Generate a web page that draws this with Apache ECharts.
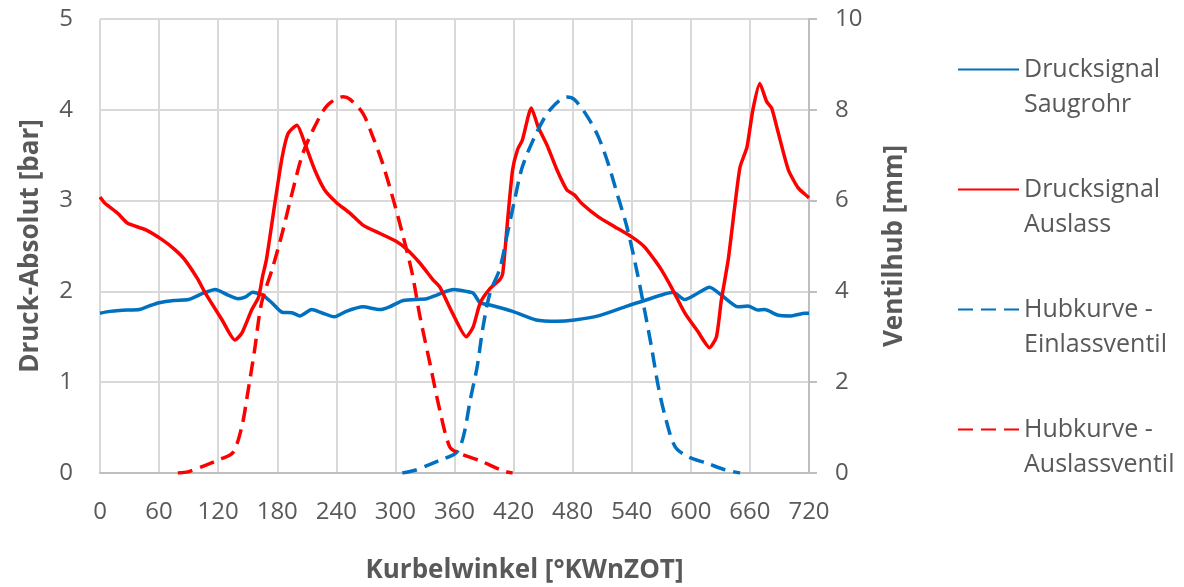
<!DOCTYPE html>
<html>
<head>
<meta charset="utf-8">
<script src="https://cdn.jsdelivr.net/npm/echarts@6/dist/echarts.min.js"></script>
<style>html,body{margin:0;padding:0;background:#fff}#c{width:1184px;height:587px}</style>
</head>
<body>
<div id="c"></div>
<script>
// Kurbelwinkel [°KWnZOT] axis
const xMin = 0, xMax = 720, xStep = 60;

// Drucksignal Saugrohr [bar]: [angle, value]
const saugrohrAngle = [0,10,20,30,40,50,60,75,90,105,117,130,140,148,155,165,175,185,195,203,215,225,238,250,267,284,294,308,332,342,359,372,379,386,396,419,443,464,482,506,533,553,582,594,607,619,631,648,658,668,675,688,702,716,720];
const saugrohrValue = [1.76,1.78,1.79,1.795,1.80,1.84,1.875,1.90,1.91,1.98,2.02,1.96,1.92,1.94,1.99,1.96,1.87,1.77,1.765,1.73,1.80,1.765,1.72,1.78,1.83,1.80,1.83,1.90,1.92,1.96,2.02,2.00,1.98,1.875,1.85,1.78,1.685,1.67,1.685,1.73,1.83,1.90,1.99,1.91,1.98,2.045,1.96,1.83,1.84,1.795,1.80,1.74,1.73,1.76,1.76];

// Drucksignal Auslass [bar]
const auslassAngle = [0,5,18,28,46,63,76,86,99,107,124,137,144,154,161,165,169,178,185,191,200,208,218,228,240,254,267,284,301,311,325,338,345,358,372,379,386,396,406,409,414,419,424,429,438,445,454,464,474,482,489,506,523,540,553,563,570,580,594,607,619,626,631,638,645,650,657,663,670,677,682,688,699,709,719,720];
const auslassValue = [3.04,2.97,2.86,2.75,2.68,2.57,2.46,2.35,2.14,1.98,1.685,1.465,1.54,1.795,1.935,2.16,2.35,3.0,3.48,3.74,3.83,3.63,3.34,3.12,2.98,2.86,2.73,2.64,2.55,2.47,2.31,2.13,2.05,1.76,1.50,1.61,1.87,2.03,2.13,2.2,2.79,3.34,3.56,3.67,4.02,3.81,3.61,3.34,3.12,3.06,2.97,2.82,2.71,2.60,2.49,2.35,2.24,2.05,1.76,1.56,1.38,1.50,1.905,2.35,2.97,3.37,3.59,4.0,4.29,4.09,4.02,3.78,3.34,3.14,3.04,3.03];

// Hubkurve - Einlassventil [mm]
const einlassAngle = [307,320,332,345,362,369,376,383,389,396,406,413,421,429,443,457,474,482,495,506,516,526,535,545,553,560,567,574,584,597,617,635,650];
const einlassValue = [0,0.06,0.16,0.28,0.45,0.8,1.61,2.34,3.22,3.96,4.5,5.2,6.01,6.75,7.48,8.0,8.28,8.22,7.85,7.41,6.82,6.09,5.43,4.47,3.59,2.78,1.9,1.24,0.58,0.36,0.21,0.07,0];

// Hubkurve - Auslassventil [mm]
const auslassVAngle = [79,90,107,122,135,144,150,157,164,175,185,195,206,218,231,247,254,267,277,287,298,308,317,325,335,345,355,363,386,409,419];
const auslassVValue = [0,0.03,0.17,0.3,0.45,1.02,1.76,2.71,3.74,4.5,5.28,6.16,7.04,7.63,8.1,8.29,8.23,7.92,7.41,6.82,6.01,5.2,4.4,3.44,2.42,1.39,0.58,0.45,0.27,0.05,0];

const names = ['Drucksignal\nSaugrohr','Drucksignal\nAuslass','Hubkurve -\nEinlassventil','Hubkurve -\nAuslassventil'];
const BLUE = '#0070C0', RED = '#FF0000', TXT = '#595959', GRID = '#D9D9D9', AX = '#BFBFBF';
const FONT = '"Open Sans", sans-serif';

const zip = (a, b) => a.map((x, i) => [x, b[i]]);

const chart = echarts.init(document.getElementById('c'));
chart.setOption({
  animation: false,
  backgroundColor: '#fff',
  grid: { left: 100, right: 375, top: 19, bottom: 114, containLabel: false, outerBoundsMode: 'none' },
  legend: {
    orient: 'vertical', left: 957, top: 17, padding: 0, itemWidth: 61, itemHeight: 14, itemGap: 15,
    data: names,
    formatter: n => '\n' + n,
    itemStyle: { opacity: 0 },
    textStyle: { fontFamily: FONT, fontSize: 25, color: TXT, lineHeight: 35 }
  },
  xAxis: {
    type: 'value', min: xMin, max: xMax, interval: xStep,
    name: 'Kurbelwinkel [°KWnZOT]', nameLocation: 'middle', nameGap: 85,
    nameTextStyle: { fontFamily: FONT, fontSize: 26, fontWeight: 'bold', color: TXT, padding: [0, 0, 0, 140] },
    axisLine: { show: true, lineStyle: { color: AX, width: 2 } },
    axisTick: { show: false },
    axisLabel: { fontFamily: FONT, fontSize: 24, color: TXT, margin: 27 },
    splitLine: { show: true, lineStyle: { color: GRID, width: 2 } }
  },
  yAxis: [
    {
      type: 'value', min: 0, max: 5, interval: 1,
      name: 'Druck-Absolut [bar]', nameLocation: 'middle', nameGap: 56, nameRotate: 90,
      nameTextStyle: { fontFamily: FONT, fontSize: 26, fontWeight: 'bold', color: TXT },
      axisLine: { show: false }, axisTick: { show: false },
      axisLabel: { fontFamily: FONT, fontSize: 24, color: TXT, margin: 27 },
      splitLine: { show: true, lineStyle: { color: GRID, width: 2 } }
    },
    {
      type: 'value', min: 0, max: 10, interval: 2, position: 'right',
      name: 'Ventilhub [mm]', nameLocation: 'middle', nameGap: 73, nameRotate: 90,
      nameTextStyle: { fontFamily: FONT, fontSize: 26, fontWeight: 'bold', color: TXT },
      axisLine: { show: true, lineStyle: { color: AX, width: 2 } },
      axisTick: { show: true, length: 8, inside: false, lineStyle: { color: AX, width: 2 } },
      axisLabel: { fontFamily: FONT, fontSize: 24, color: TXT, margin: 26 },
      splitLine: { show: false }
    }
  ],
  series: [
    { name: names[0], type: 'line', yAxisIndex: 0, data: zip(saugrohrAngle, saugrohrValue), symbol: 'none', smooth: 0.2,
      lineStyle: { color: BLUE, width: 3.5 }, itemStyle: { color: BLUE } },
    { name: names[1], type: 'line', yAxisIndex: 0, data: zip(auslassAngle, auslassValue), symbol: 'none', smooth: 0.2,
      lineStyle: { color: RED, width: 3.5 }, itemStyle: { color: RED } },
    { name: names[2], type: 'line', yAxisIndex: 1, data: zip(einlassAngle, einlassValue), symbol: 'none', smooth: 0.3,
      lineStyle: { color: BLUE, width: 3.5, type: [15, 8] }, itemStyle: { color: BLUE } },
    { name: names[3], type: 'line', yAxisIndex: 1, data: zip(auslassVAngle, auslassVValue), symbol: 'none', smooth: 0.3,
      lineStyle: { color: RED, width: 3.5, type: [15, 8] }, itemStyle: { color: RED } }
  ]
});
</script>
</body>
</html>
